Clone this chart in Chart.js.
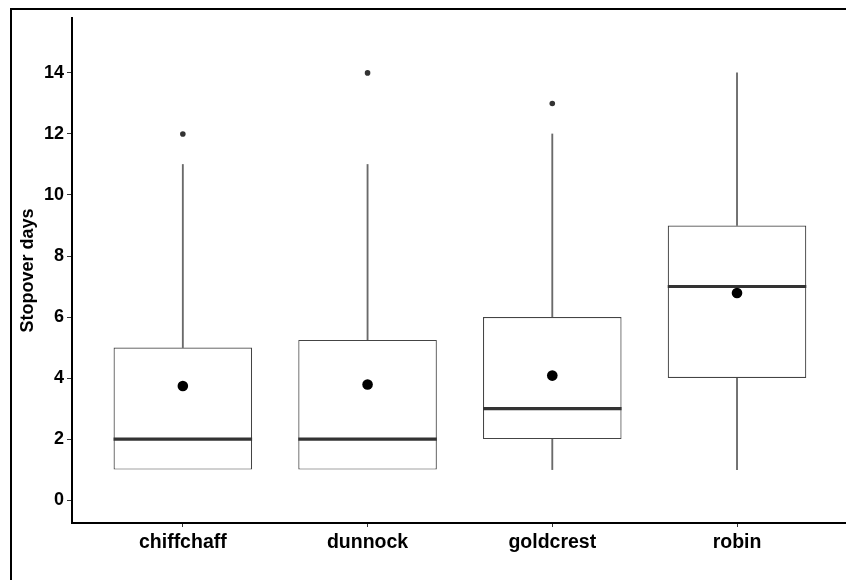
<!DOCTYPE html>
<html>
<head>
<meta charset="utf-8">
<script src="https://cdn.jsdelivr.net/npm/chart.js@4"></script>
<style>
  html, body { margin: 0; padding: 0; background: #fff; overflow: hidden; }
  canvas { display: block; }
</style>
</head>
<body>
<canvas id="c" width="846" height="580"></canvas>
<script>
// Stopover duration per species (days)
const species = ['chiffchaff', 'dunnock', 'goldcrest', 'robin'];
const whiskerLow = [1, 1, 1, 1];
const q1 = [1, 1, 2, 4];
const median = [2, 2, 3, 7];
const q3 = [5, 5.25, 6, 9];
const whiskerHigh = [11, 11, 12, 14];
const means = [3.74, 3.79, 4.08, 6.79];
// Outlying observations: [species index, value]
const outlierSpecies = [0, 1, 2];
const outlierValues = [12, 14, 13];
const yTickValues = [0, 2, 4, 6, 8, 10, 12, 14];

const FONT = '"Liberation Sans", Arial, Helvetica, sans-serif';
const BOX_WIDTH = 0.75; // in category units

const boxData = species.map((s, i) => ({ x: i, y: [q1[i], q3[i]] }));
const upperWhiskers = species.map((s, i) => ({ x: i, y: [q3[i], whiskerHigh[i]] }));
const lowerWhiskers = species.map((s, i) => ({ x: i, y: [whiskerLow[i], q1[i]] }))
  .filter(d => d.y[1] > d.y[0]);
const medianData = species.map((s, i) => ({ x: i, y: median[i] }));
const meanData = species.map((s, i) => ({ x: i, y: means[i] }));
const outlierData = outlierSpecies.map((k, j) => ({ x: k, y: outlierValues[j] }));

// Half the box width in pixels, taken from the x scale
function halfBox(ctx) {
  const s = ctx.chart.scales.x;
  return Math.abs(s.getPixelForValue(BOX_WIDTH / 2) - s.getPixelForValue(0));
}

const frame = {
  id: 'frame',
  afterDraw(chart) {
    const ctx = chart.ctx;
    ctx.save();
    ctx.strokeStyle = '#000';
    ctx.lineWidth = 2;
    ctx.beginPath();
    ctx.moveTo(11, 600);
    ctx.lineTo(11, 9);
    ctx.lineTo(860, 9);
    ctx.stroke();
    ctx.restore();
  }
};

new Chart(document.getElementById('c'), {
  type: 'bar',
  data: {
    datasets: [
      {
        label: 'upper whisker', data: upperWhiskers, grouped: false, order: 5,
        backgroundColor: '#6a6a6a', borderWidth: 0, barThickness: 1.2
      },
      {
        label: 'lower whisker', data: lowerWhiskers, grouped: false, order: 5,
        backgroundColor: '#6a6a6a', borderWidth: 0, barThickness: 1.2
      },
      {
        label: 'box', data: boxData, grouped: false, order: 4,
        backgroundColor: '#ffffff', borderColor: '#444444', borderWidth: 1.2,
        borderSkipped: false,
        barPercentage: BOX_WIDTH, categoryPercentage: 1
      },
      {
        type: 'scatter', label: 'median', data: medianData, order: 3,
        pointStyle: 'line', pointRadius: halfBox, pointHoverRadius: halfBox,
        borderColor: '#333333', borderWidth: 3.2
      },
      {
        type: 'scatter', label: 'outliers', data: outlierData, order: 2,
        pointStyle: 'circle', pointRadius: 2.8, borderWidth: 0,
        backgroundColor: '#333333'
      },
      {
        type: 'scatter', label: 'mean', data: meanData, order: 1,
        pointStyle: 'circle', pointRadius: 5.3, borderWidth: 0,
        backgroundColor: '#000000'
      }
    ]
  },
  options: {
    responsive: false,
    animation: false,
    events: [],
    layout: { autoPadding: false, padding: { top: 18, left: 0, right: 0, bottom: 0 } },
    plugins: { legend: { display: false }, tooltip: { enabled: false } },
    scales: {
      x: {
        type: 'linear',
        min: -0.6,
        max: 3.59,
        offset: false,
        afterBuildTicks(scale) { scale.ticks = species.map((s, i) => ({ value: i })); },
        afterFit(scale) { scale.height = 57; },
        grid: { offset: false, drawOnChartArea: false, drawTicks: true, tickLength: 4, tickColor: '#333', tickWidth: 1 },
        border: { display: true, color: '#000', width: 2 },
        ticks: {
          autoSkip: false, maxRotation: 0, padding: 4, color: '#000',
          font: { family: FONT, size: 19.5, weight: 'bold' },
          callback: v => species[v]
        }
      },
      y: {
        type: 'linear',
        min: -0.75,
        max: 15.8,
        afterBuildTicks(scale) { scale.ticks = yTickValues.map(v => ({ value: v })); },
        afterFit(scale) { scale.width = 72; },
        grid: { drawOnChartArea: false, drawTicks: true, tickLength: 5, tickColor: '#333', tickWidth: 1 },
        border: { display: true, color: '#000', width: 2 },
        ticks: {
          padding: 3, color: '#000',
          font: { family: FONT, size: 18, weight: 'bold' }
        },
        title: {
          display: true, text: 'Stopover days', color: '#000',
          font: { family: FONT, size: 18, weight: 'bold' },
          padding: { top: 17, bottom: 0 }
        }
      }
    }
  },
  plugins: [frame]
});
</script>
</body>
</html>
